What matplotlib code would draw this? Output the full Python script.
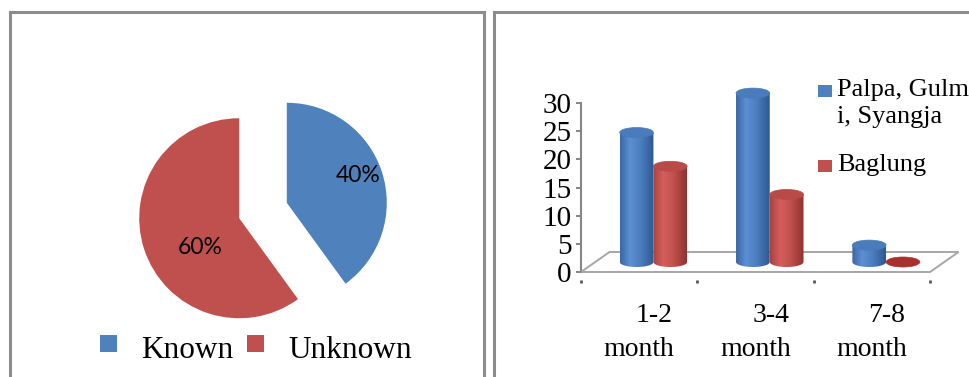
import matplotlib.pyplot as plt
import matplotlib.patches as mpatches
import matplotlib.transforms as mtransforms
from matplotlib.path import Path
from matplotlib.colors import LinearSegmentedColormap
import numpy as np

# awareness pie
pie_labels = ["Known", "Unknown"]
pie_values = [40, 60]

# duration bars
periods = ["1-2", "3-4", "7-8"]
period_unit = "month"
palpa = [23, 30, 3]
baglung = [17, 12, 0]
series_names = ["Palpa, Gulm\ni, Syangja", "Baglung"]

W, H = 970, 377
BLUE = "#4F81BD"
RED = "#C0504D"
FRAME = "#8C8C8C"
AXIS = "#868686"
SERIF = "Liberation Serif"

fig = plt.figure(figsize=(W / 100, H / 100), dpi=100)


def fx(x):
    return x / W


def fy(y):
    return 1 - y / H


def box(x0, y0, x1, y1):
    return [fx(x0), fy(y1), (x1 - x0) / W, (y1 - y0) / H]


# panel frames
for (x0, y0, x1, y1) in [(10.5, 12, 484.5, 400), (494.5, 11.5, 1010, 400)]:
    fig.patches.append(mpatches.Rectangle((fx(x0), fy(y1)), (x1 - x0) / W, (y1 - y0) / H,
                                          fill=False, ec=FRAME, lw=2.2,
                                          transform=fig.transFigure, clip_on=False))

# ---- left: pie ----
ax1 = fig.add_axes(box(113, 60.5, 413, 360.5))
wedges, texts, autotexts = ax1.pie(pie_values, colors=[BLUE, RED], startangle=90,
                                   counterclock=False, explode=[0.25, 0.25],
                                   autopct="%d%%",
                                   textprops=dict(family="Lato", fontsize=16.5, color="black"))
autotexts[0].set_position((0.95, 0.355))
autotexts[1].set_position((-0.63, -0.365))
ax1.set_xlim(-1.5, 1.5)
ax1.set_ylim(-1.5, 1.5)
ax1.set_aspect("equal")
ax1.axis("off")

# pie legend
for lab, col, sq_x, tx_x in zip(pie_labels, [BLUE, RED], [100, 247], [141, 288]):
    fig.patches.append(mpatches.Rectangle((fx(sq_x), fy(352)), 17 / W, 17 / H, fc=col, ec="none",
                                          transform=fig.transFigure))
    fig.text(fx(tx_x), fy(358), lab, family=SERIF, fontsize=22.5, va="baseline", ha="left")

# ---- right: cylinder columns ----
px_unit = 5.63
ax2 = fig.add_axes(box(581, 272 - 33 * px_unit, 930, 280))
ax2.set_xlim(0, 3)
ax2.set_ylim(-8 / px_unit, 33)

depth_dx, depth_dy = 0.245, 20 / px_unit
floor = mpatches.Polygon([(0, 0), (3, 0), (3 + depth_dx, depth_dy), (depth_dx, depth_dy)],
                         closed=True, fc="white", ec="#A6A6A6", lw=1.4, clip_on=False, zorder=1)
ax2.add_patch(floor)

blue_cmap = LinearSegmentedColormap.from_list(
    "bl", [(0, "#3B68A6"), (0.3, "#5C8FD2"), (0.6, "#4C7EC0"), (1, "#2E5991")])
red_cmap = LinearSegmentedColormap.from_list(
    "rd", [(0, "#A8423F"), (0.3, "#D45F5C"), (0.6, "#C2514E"), (1, "#93322F")])


def cylinder(ax, xc, base, height, w, eh, cmap, topcolor, z):
    x0, x1 = xc - w / 2, xc + w / 2
    top = base + height
    if height > 0:
        t = np.linspace(np.pi, 2 * np.pi, 50)
        arc = np.column_stack([xc + w / 2 * np.cos(t), base + eh / 2 * np.sin(t)])
        verts = [(x0, top)] + [tuple(p) for p in arc] + [(x1, top), (x0, top)]
        body = mpatches.PathPatch(Path(verts), fc="none", ec="none", transform=ax.transData)
        ax.add_patch(body)
        grad = np.linspace(0, 1, 100).reshape(1, -1)
        im = ax.imshow(grad, cmap=cmap, extent=[x0, x1, base - eh / 2, top],
                       aspect="auto", zorder=z, interpolation="bilinear")
        im.set_clip_path(body)
    cap = mpatches.Ellipse((xc, top), w, eh, fc=topcolor, ec=topcolor, lw=0.5,
                           zorder=z + 0.1, clip_on=False)
    ax.add_patch(cap)


bar_w = 0.29
cap_h = 10 / px_unit
mid_dx, mid_dy = depth_dx / 2, depth_dy / 2
for i in range(len(periods)):
    c = i + 0.5 + mid_dx
    cylinder(ax2, c - bar_w / 2, mid_dy, palpa[i], bar_w, cap_h, blue_cmap, "#4A7BBA", 3)
    cylinder(ax2, c + bar_w / 2, mid_dy, baglung[i], bar_w, cap_h, red_cmap,
             "#B84B48" if baglung[i] > 0 else "#A8312E", 4)

ax2.set_xlim(0, 3)
ax2.set_ylim(-8 / px_unit, 33)

for s in ["top", "right", "bottom"]:
    ax2.spines[s].set_visible(False)
ax2.spines["left"].set_bounds(0, 30)
ax2.spines["left"].set_color(AXIS)
ax2.spines["left"].set_linewidth(1.5)
ax2.spines["left"].set_zorder(0.5)
ax2.set_yticks(range(0, 31, 5))
ax2.set_yticklabels([str(v) for v in range(0, 31, 5)], family=SERIF, fontsize=21)
ax2.tick_params(axis="y", length=3.6, width=1.4, color=AXIS, pad=3)
ax2.set_xticks([0, 1, 2, 3])
ax2.set_xticklabels([])
ax2.tick_params(axis="x", length=2, width=2, color="#555555")
ax2.patch.set_visible(False)

lab_tr = mtransforms.blended_transform_factory(ax2.transData, fig.transFigure)
for i, p in enumerate(periods):
    ax2.text(i + 0.5 + 0.13, fy(316), p, transform=lab_tr, family=SERIF, fontsize=20,
             ha="center", va="center")
    ax2.text(i + 0.5, fy(349), period_unit, transform=lab_tr, family=SERIF, fontsize=20,
             ha="center", va="center")

# series legend
for name, col, sq_y, tx_y in zip(series_names, [BLUE, RED], [85, 160], [79, 154]):
    fig.patches.append(mpatches.Rectangle((fx(818), fy(sq_y + 12)), 14 / W, 12 / H, fc=col,
                                          ec="none", transform=fig.transFigure))
    fig.text(fx(837), fy(tx_y), name, family=SERIF, fontsize=19, va="top", ha="left",
             linespacing=1.3)

fig.savefig("out.png", dpi=100)
